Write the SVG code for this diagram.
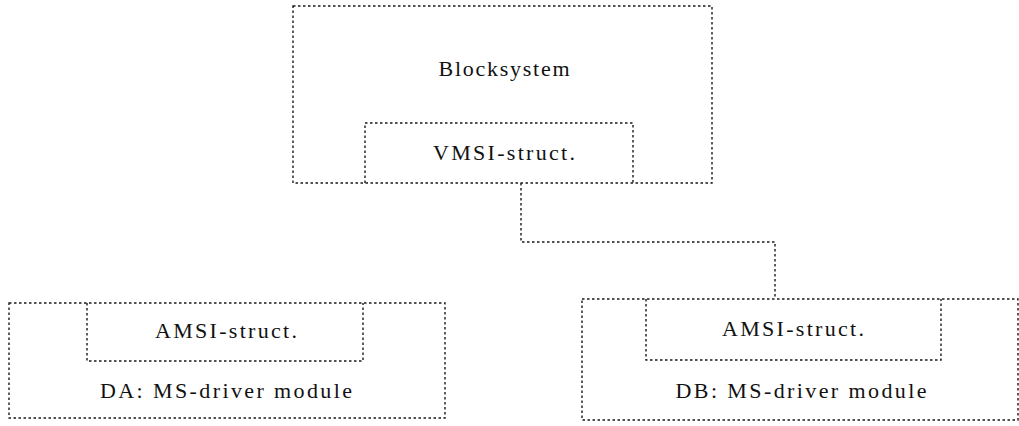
<svg xmlns="http://www.w3.org/2000/svg" width="1019" height="426" viewBox="0 0 1019 426">
  <style>
    .box { fill: none; stroke: #1a1a1a; stroke-width: 1.4; stroke-dasharray: 2.5 2.5; }
    .conn { fill: none; stroke: #1a1a1a; stroke-width: 1.4; stroke-dasharray: 2.5 2.5; }
    .lbl { font-family: "Liberation Serif", "Times New Roman", serif; font-size: 22px; fill: #111; text-anchor: middle; }
  </style>
  <rect width="1019" height="426" fill="#ffffff"/>
  <g id="blocksystem">
    <rect class="box" x="293" y="6" width="419" height="177"/>
    <text class="lbl" x="504" y="76" textLength="131" lengthAdjust="spacing">Blocksystem</text>
    <g id="vmsi-struct">
      <path class="box" d="M365,183 V123 H633 V183"/>
      <text class="lbl" x="504" y="160" textLength="142" lengthAdjust="spacing">VMSI-struct.</text>
    </g>
  </g>
  <g id="da-module">
    <rect class="box" x="9" y="303" width="436" height="115"/>
    <text class="lbl" x="226" y="398" textLength="252" lengthAdjust="spacing">DA: MS-driver module</text>
    <g id="da-amsi-struct">
      <path class="box" d="M87,303 V361 H363 V303"/>
      <text class="lbl" x="226" y="338" textLength="142" lengthAdjust="spacing">AMSI-struct.</text>
    </g>
  </g>
  <g id="db-module">
    <rect class="box" x="582" y="299" width="436" height="121"/>
    <text class="lbl" x="801" y="398" textLength="251" lengthAdjust="spacing">DB: MS-driver module</text>
    <g id="db-amsi-struct">
      <path class="box" d="M646,299 V360 H941 V299"/>
      <text class="lbl" x="793" y="336" textLength="142" lengthAdjust="spacing">AMSI-struct.</text>
    </g>
  </g>
  <g id="connectors">
    <path class="conn" d="M521,183 V242 H775 V299"/>
  </g>
</svg>
